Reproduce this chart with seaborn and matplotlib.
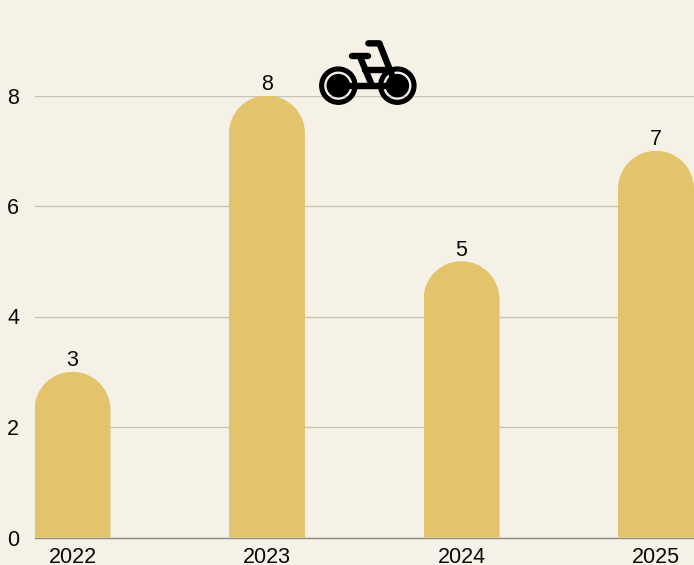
import matplotlib
matplotlib.use("Agg")
import matplotlib.pyplot as plt
import seaborn as sns
import pandas as pd
from matplotlib.path import Path
from matplotlib.patches import PathPatch, Circle
from matplotlib.transforms import Affine2D

years = ["2022", "2023", "2024", "2025"]
counts = [3, 8, 5, 7]
y_ticks = [0, 2, 4, 6, 8]

BG = "#F5F1E6"
BAR = "#E3C46D"
GRID = "#C8C5B8"
W, H = 694, 565

sns.set_theme(style="white")
plt.rcParams["font.family"] = ["Liberation Sans", "DejaVu Sans"]

fig = plt.figure(figsize=(W / 100, H / 100), dpi=100, facecolor=BG)
L, R, T, B = 35, 694, 95.5, 537.5
ax = fig.add_axes([L / W, (H - B) / H, (R - L) / W, (B - T) / H], facecolor=BG)

df = pd.DataFrame({"year": years, "count": counts})
sns.barplot(data=df, x="year", y="count", color=BAR, saturation=1, width=76 / 194.5, ax=ax, zorder=3)

ax.set_xlim((L - 72.5) / 194.5, (R - 72.5) / 194.5)
ax.set_ylim(0, 8)
ax.set_yticks(y_ticks)
ax.set_xlabel("")
ax.set_ylabel("")
ax.grid(axis="y", color=GRID, lw=1, zorder=1)
ax.grid(axis="x", visible=False)
for s in ["top", "right", "left"]:
    ax.spines[s].set_visible(False)
ax.spines["bottom"].set_color("#8F8C82")
ax.spines["bottom"].set_linewidth(1)
ax.spines["bottom"].set_zorder(2)
ax.tick_params(axis="both", length=0, labelsize=15.5, colors="#0A0A0A")
ax.tick_params(axis="x", pad=6.6)
ax.tick_params(axis="y", pad=11.5)
for lbl in ax.get_yticklabels():
    lbl.set_clip_on(False)

# Round the bar tops: each bar is clipped to a semicircular-topped path
px_per_y = (B - T) / 8
for bar in ax.patches:
    x0, w, h = bar.get_x(), bar.get_width(), bar.get_height()
    ry = (w * 194.5 / 2) / px_per_y
    arc = Path.arc(0, 180)
    arc = arc.transformed(Affine2D().scale(w / 2, ry).translate(x0 + w / 2, h - ry))
    verts = [(x0, 0), (x0 + w, 0)] + list(arc.vertices) + [(x0, 0), (x0, 0)]
    codes = [Path.MOVETO, Path.LINETO, Path.LINETO] + list(arc.codes[1:]) + [Path.LINETO, Path.CLOSEPOLY]
    clip = PathPatch(Path(verts, codes), transform=ax.transData, fc="none", ec="none")
    ax.add_patch(clip)
    bar.set_clip_path(clip)
    bar.set_linewidth(0)
    bar.set_clip_on(True)

for c in ax.containers:
    ax.bar_label(c, labels=[str(v) for v in counts], padding=0.5, fontsize=15.5, color="#0A0A0A", clip_on=False)

# Bicycle icon, drawn in a pixel-space overlay
ov = fig.add_axes([0, 0, 1, 1], facecolor="none", zorder=10)
ov.set_xlim(0, W)
ov.set_ylim(H, 0)
ov.axis("off")
def Z(x, y):
    return 300 + x / 3, 20 + y / 3
lw = 4.6
for c in [Z(115, 197), Z(292, 197)]:
    ov.add_patch(Circle(c, 16.7, fc="none", ec="black", lw=3.7))
    ov.add_patch(Circle(c, 11.8, fc="black", ec="none"))
segs = [
    [Z(205, 70), Z(238, 70), Z(288, 195)],
    [Z(155, 108), Z(205, 108)],
    [Z(180, 110), Z(214, 192)],
    [Z(195, 150), Z(272, 150)],
    [Z(125, 197), Z(295, 197)],
]
for s in segs:
    xs, ys = zip(*s)
    ov.plot(xs, ys, color="black", lw=lw, solid_capstyle="round", solid_joinstyle="round")

fig.savefig("out.png", dpi=100, facecolor=BG)
